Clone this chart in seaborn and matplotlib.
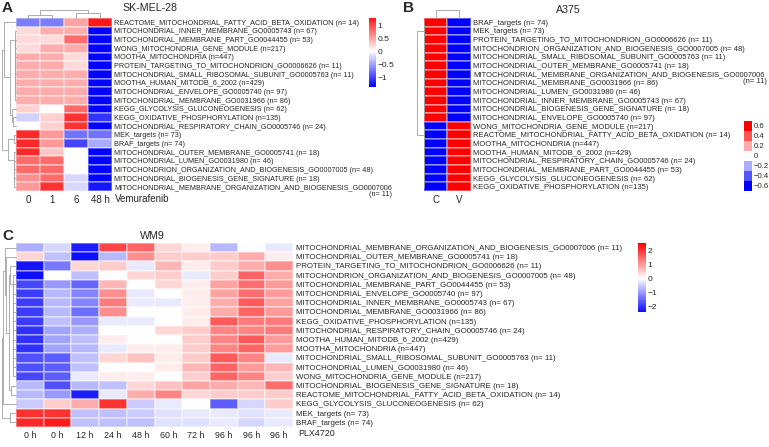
import numpy as np
import pandas as pd
import matplotlib
matplotlib.use("Agg")
import matplotlib.pyplot as plt
from matplotlib.colors import ListedColormap
from matplotlib.transforms import blended_transform_factory
import seaborn as sns

sns.set_style("white")
plt.rcParams["font.family"] = ["Liberation Sans", "DejaVu Sans"]

# ---------------- data ----------------
cols_A = ["0", "1", "6", "48 h"]
rows_A = [
    "REACTOME_MITOCHONDRIAL_FATTY_ACID_BETA_OXIDATION (n= 14)",
    "MITOCHONDRIAL_INNER_MEMBRANE_GO0005743 (n= 67)",
    "MITOCHONDRIAL_MEMBRANE_PART_GO0044455 (n= 53)",
    "WONG_MITOCHONDRIA_GENE_MODULE (n=217)",
    "MOOTHA_MITOCHONDRIA (n=447)",
    "PROTEIN_TARGETING_TO_MITOCHONDRION_GO0006626 (n= 11)",
    "MITOCHONDRIAL_SMALL_RIBOSOMAL_SUBUNIT_GO0005763 (n= 11)",
    "MOOTHA_HUMAN_MITODB_6_2002 (n=429)",
    "MITOCHONDRIAL_ENVELOPE_GO0005740 (n= 97)",
    "MITOCHONDRIAL_MEMBRANE_GO0031966 (n= 86)",
    "KEGG_GLYCOLYSIS_GLUCONEOGENESIS (n= 62)",
    "KEGG_OXIDATIVE_PHOSPHORYLATION (n=135)",
    "MITOCHONDRIAL_RESPIRATORY_CHAIN_GO0005746 (n= 24)",
    "MEK_targets (n= 73)",
    "BRAF_targets (n= 74)",
    "MITOCHONDRIAL_OUTER_MEMBRANE_GO0005741 (n= 18)",
    "MITOCHONDRIAL_LUMEN_GO0031980 (n= 46)",
    "MITOCHONDRION_ORGANIZATION_AND_BIOGENESIS_GO0007005 (n= 48)",
    "MITOCHONDRIAL_BIOGENESIS_GENE_SIGNATURE (n= 18)",
    "MITOCHONDRIAL_MEMBRANE_ORGANIZATION_AND_BIOGENESIS_GO0007006",
]
vals_A = [
    [-0.70, -0.70, 0.50, 1.25],
    [0.20, 0.45, 0.45, -1.40],
    [0.20, 0.20, 0.80, -1.35],
    [0.20, 0.45, 0.45, -1.35],
    [0.45, 0.45, 0.20, -1.35],
    [0.45, 0.45, 0.20, -1.35],
    [0.45, 0.45, 0.45, -1.35],
    [0.45, 0.45, 0.45, -1.35],
    [0.45, 0.45, 0.45, -1.35],
    [0.45, 0.45, 0.45, -1.35],
    [0.25, 0.00, 0.80, -1.35],
    [-0.25, 0.25, 1.10, -1.10],
    [0.00, 0.25, 1.10, -1.35],
    [1.15, 0.55, -0.75, -0.75],
    [1.15, 0.55, -1.00, -0.45],
    [1.15, 0.30, 0.00, -1.35],
    [0.80, 0.80, 0.00, -1.35],
    [0.80, 0.80, 0.00, -1.35],
    [0.60, 0.80, -0.20, -1.35],
    [0.55, 1.10, -0.20, -1.25],
]

cols_B = ["C", "V"]
rows_B = [
    "BRAF_targets (n= 74)",
    "MEK_targets (n= 73)",
    "PROTEIN_TARGETING_TO_MITOCHONDRION_GO0006626 (n= 11)",
    "MITOCHONDRION_ORGANIZATION_AND_BIOGENESIS_GO0007005 (n= 48)",
    "MITOCHONDRIAL_SMALL_RIBOSOMAL_SUBUNIT_GO0005763 (n= 11)",
    "MITOCHONDRIAL_OUTER_MEMBRANE_GO0005741 (n= 18)",
    "MITOCHONDRIAL_MEMBRANE_ORGANIZATION_AND_BIOGENESIS_GO0007006",
    "MITOCHONDRIAL_MEMBRANE_GO0031966 (n= 86)",
    "MITOCHONDRIAL_LUMEN_GO0031980 (n= 46)",
    "MITOCHONDRIAL_INNER_MEMBRANE_GO0005743 (n= 67)",
    "MITOCHONDRIAL_BIOGENESIS_GENE_SIGNATURE (n= 18)",
    "MITOCHONDRIAL_ENVELOPE_GO0005740 (n= 97)",
    "WONG_MITOCHONDRIA_GENE_MODULE (n=217)",
    "REACTOME_MITOCHONDRIAL_FATTY_ACID_BETA_OXIDATION (n= 14)",
    "MOOTHA_MITOCHONDRIA (n=447)",
    "MOOTHA_HUMAN_MITODB_6_2002 (n=429)",
    "MITOCHONDRIAL_RESPIRATORY_CHAIN_GO0005746 (n= 24)",
    "MITOCHONDRIAL_MEMBRANE_PART_GO0044455 (n= 53)",
    "KEGG_GLYCOLYSIS_GLUCONEOGENESIS (n= 62)",
    "KEGG_OXIDATIVE_PHOSPHORYLATION (n=135)",
]
vals_B_C = [0.707] * 12 + [-0.707] * 8
vals_B_V = [-0.707] * 12 + [0.707] * 8

cols_C = ["0 h", "0 h", "12 h", "24 h", "48 h", "60 h", "72 h", "96 h", "96 h", "96 h"]
rows_C = [
    "MITOCHONDRIAL_MEMBRANE_ORGANIZATION_AND_BIOGENESIS_GO0007006 (n= 11)",
    "MITOCHONDRIAL_OUTER_MEMBRANE_GO0005741 (n= 18)",
    "PROTEIN_TARGETING_TO_MITOCHONDRION_GO0006626 (n= 11)",
    "MITOCHONDRION_ORGANIZATION_AND_BIOGENESIS_GO0007005 (n= 48)",
    "MITOCHONDRIAL_MEMBRANE_PART_GO0044455 (n= 53)",
    "MITOCHONDRIAL_ENVELOPE_GO0005740 (n= 97)",
    "MITOCHONDRIAL_INNER_MEMBRANE_GO0005743 (n= 67)",
    "MITOCHONDRIAL_MEMBRANE_GO0031966 (n= 86)",
    "KEGG_OXIDATIVE_PHOSPHORYLATION (n=135)",
    "MITOCHONDRIAL_RESPIRATORY_CHAIN_GO0005746 (n= 24)",
    "MOOTHA_HUMAN_MITODB_6_2002 (n=429)",
    "MOOTHA_MITOCHONDRIA (n=447)",
    "MITOCHONDRIAL_SMALL_RIBOSOMAL_SUBUNIT_GO0005763 (n= 11)",
    "MITOCHONDRIAL_LUMEN_GO0031980 (n= 46)",
    "WONG_MITOCHONDRIA_GENE_MODULE (n=217)",
    "MITOCHONDRIAL_BIOGENESIS_GENE_SIGNATURE (n= 18)",
    "REACTOME_MITOCHONDRIAL_FATTY_ACID_BETA_OXIDATION (n= 14)",
    "KEGG_GLYCOLYSIS_GLUCONEOGENESIS (n= 62)",
    "MEK_targets (n= 73)",
    "BRAF_targets (n= 74)",
]
vals_C = [
    [-0.8, -0.4, -2.2, 1.8, 1.5, 0.4, 0.2, -0.7, 0.0, -0.2],
    [0.4, -0.6, -2.4, -0.7, 1.1, 0.5, 0.5, 0.5, 0.8, 0.2],
    [-2.3, -1.3, 0.4, 0.5, -0.2, 0.7, 0.2, 0.5, 0.8, 1.1],
    [-2.4, 0.0, -0.6, 0.0, 0.4, 0.5, -0.2, 0.5, 1.5, 0.8],
    [-1.8, -1.0, -1.5, 0.7, 0.0, 0.4, 0.2, 0.9, 1.4, 1.0],
    [-1.9, -0.7, -1.2, 1.1, -0.2, 0.0, 0.2, 0.9, 1.4, 1.0],
    [-1.9, -0.7, -1.2, 1.3, -0.2, -0.2, 0.2, 0.8, 1.6, 0.9],
    [-1.9, -0.7, -1.4, 1.1, 0.0, 0.0, 0.2, 0.8, 1.5, 1.0],
    [-1.9, -0.6, -1.0, -0.2, -0.2, 0.0, 0.2, 1.6, 1.3, 1.3],
    [-2.0, -0.9, -0.8, 0.0, 0.0, 0.4, 0.5, 1.2, 1.2, 1.3],
    [-2.0, -0.9, -0.6, 0.2, 0.0, 0.0, 0.5, 1.2, 1.6, 1.0],
    [-2.0, -0.9, -0.7, -0.2, 0.2, 0.2, 0.5, 1.2, 1.5, 1.0],
    [-1.7, -1.6, -0.6, 0.4, 0.6, 0.2, 0.5, 1.6, 1.2, -0.2],
    [-1.7, -1.6, -0.6, 0.0, 0.0, 0.2, 0.7, 1.5, 1.0, 0.7],
    [-1.8, -1.6, -0.2, 0.2, 0.2, 0.0, 0.5, 1.5, 1.2, 0.5],
    [-0.7, -1.7, -0.7, -0.6, 0.4, 0.6, 0.9, 0.8, 0.7, 1.4],
    [-0.7, -1.0, -2.2, -0.2, 0.8, 1.2, 0.4, 0.5, 0.5, 0.5],
    [-0.5, 0.5, 0.8, 2.0, -0.5, -0.2, 0.0, -1.6, -0.4, 0.5],
    [2.0, 2.0, -0.6, -0.6, -0.5, -0.3, -0.2, -0.2, -0.3, -0.2],
    [2.1, 2.2, -0.6, -0.6, -0.6, -0.3, -0.3, -0.2, -0.4, -0.2],
]


# ---------------- dendrogram structures ----------------
def chain(idx, h):
    idx = list(idx)
    node = idx[-1]
    for i in reversed(idx[:-1]):
        node = (i, node, h)
    return node


tree_A_cols = ((0, 1, 0.375), (2, 3, 0.625), 1.0)
tree_A_rows = (
    (0, (chain(range(1, 10), 0.08), (10, (11, 12, 0.2), 0.3), 0.45), 0.85),
    ((13, 14, 0.15), chain(range(15, 20), 0.12), 0.55),
    1.0,
)
tree_B_cols = (0, 1, 1.0)
tree_B_rows = (chain(range(0, 12), 0.02), chain(range(12, 20), 0.02), 1.0)
tree_C_rows = (
    ((0, (1, ((2, chain(range(3, 15), 0.18), 0.4), (15, 16, 0.35), 0.5), 0.7), 0.8), 17, 0.88),
    (18, 19, 0.4),
    1.0,
)

# ---------------- layout helpers ----------------
W, H = 769, 447
fig = plt.figure(figsize=(W / 100, H / 100), dpi=100)


def box(x0, y0, x1, y1):
    return [x0 / W, 1 - y1 / H, (x1 - x0) / W, (y1 - y0) / H]


def draw_dendro(ax, tree, n, orient, color="#a0a0a0", lw=0.6):
    def rec(node):
        if isinstance(node, int):
            return node + 0.5, 0.0
        l, r, h = node
        pl, hl = rec(l)
        pr, hr = rec(r)
        if orient == "left":
            ax.plot([hl, h, h, hr], [pl, pl, pr, pr], color=color, lw=lw, clip_on=False)
        else:
            ax.plot([pl, pl, pr, pr], [hl, h, h, hr], color=color, lw=lw, clip_on=False)
        return (pl + pr) / 2, h

    _, top = rec(tree)
    if orient == "left":
        ax.set_xlim(top * 1.05, 0)
        ax.set_ylim(n, 0)
    else:
        ax.set_xlim(0, n)
        ax.set_ylim(0, top * 1.05)
    ax.axis("off")


def style_heat(ax, ylab_size, ypad, xlab_size, xpad):
    ax.yaxis.tick_right()
    ax.tick_params(axis="y", length=0, pad=ypad, labelsize=ylab_size)
    ax.tick_params(axis="x", length=0, pad=xpad, labelsize=xlab_size)
    plt.setp(ax.get_yticklabels(), rotation=0, ha="left")
    plt.setp(ax.get_xticklabels(), rotation=0)


def style_cbar(ax, ticks, labels, size=6):
    cb = ax.collections[0].colorbar
    cb.set_ticks(ticks)
    cb.set_ticklabels(labels)
    cb.ax.tick_params(length=0, labelsize=size, pad=1)
    cb.outline.set_visible(False)


grid = dict(linewidths=0.3, linecolor=(1, 1, 1, 0.35))

# ---------------- Panel A ----------------
axA = fig.add_axes(box(16, 18, 112, 191))
caxA = fig.add_axes(box(369, 18, 376, 87))
dfA = pd.DataFrame(vals_A, index=rows_A, columns=cols_A)
sns.heatmap(dfA, ax=axA, cbar_ax=caxA, cmap="bwr", vmin=-1.38, vmax=1.27, center=0,
            xticklabels=cols_A, yticklabels=rows_A, **grid)
style_heat(axA, 5.25, 1.5, 7, 3)
style_cbar(axA, [-1, -0.5, 0, 0.5, 1], ["\u22121", "\u22120.5", "0", "0.5", "1"])
trA = blended_transform_factory(fig.transFigure, axA.transData)
axA.text(392 / W, 20.45, "(n= 11)", transform=trA, ha="right", va="center", fontsize=5.25)
fig.text(115 / W, 1 - 199 / H, "Vemurafenib", fontsize=7, va="center", ha="left")

draw_dendro(fig.add_axes(box(16, 9.5, 112, 18)), tree_A_cols, 4, "top")
draw_dendro(fig.add_axes(box(1, 18, 16, 191)), tree_A_rows, 20, "left")

fig.text(2 / W, 1 - 8 / H, "A", fontsize=11, fontweight="bold", va="center")
fig.text(122 / W, 1 - 8 / H, "SK-MEL-28", fontsize=7.7, va="center")

# ---------------- Panel B ----------------
axB = fig.add_axes(box(424, 18, 471, 191))
caxB = fig.add_axes(box(744, 121, 752, 191))
dfB = pd.DataFrame({"C": vals_B_C, "V": vals_B_V}, index=rows_B)
cmapB = ListedColormap(plt.cm.bwr(np.linspace(0, 1, 7)))
sns.heatmap(dfB, ax=axB, cbar_ax=caxB, cmap=cmapB, vmin=-0.7, vmax=0.7,
            xticklabels=cols_B, yticklabels=rows_B, **grid)
style_heat(axB, 5.5, 1.5, 7, 3)
style_cbar(axB, [-0.6, -0.4, -0.2, 0, 0.2, 0.4, 0.6],
           ["\u22120.6", "\u22120.4", "\u22120.2", "0", "0.2", "0.4", "0.6"], size=5.6)
trB = blended_transform_factory(fig.transFigure, axB.transData)
axB.text(767 / W, 7.35, "(n= 11)", transform=trB, ha="right", va="center", fontsize=5.5)

draw_dendro(fig.add_axes(box(424, 10, 471, 18)), tree_B_cols, 2, "top")
draw_dendro(fig.add_axes(box(416.5, 18, 424, 191)), tree_B_rows, 20, "left")

fig.text(403 / W, 1 - 8 / H, "B", fontsize=11, fontweight="bold", va="center")
fig.text(556 / W, 1 - 10 / H, "A375", fontsize=7.7, va="center")

# ---------------- Panel C ----------------
axC = fig.add_axes(box(16, 243, 293, 427))
caxC = fig.add_axes(box(638, 243, 646, 312))
dfC = pd.DataFrame(vals_C, index=rows_C, columns=list(range(len(cols_C))))
sns.heatmap(dfC, ax=axC, cbar_ax=caxC, cmap="bwr", vmin=-2.36, vmax=2.5, center=0,
            xticklabels=cols_C, yticklabels=rows_C, **grid)
style_heat(axC, 5.65, 2.5, 6.4, 3)
style_cbar(axC, [-2, -1, 0, 1, 2], ["\u22122", "\u22121", "0", "1", "2"])
fig.text(298 / W, 1 - 434 / H, "PLX4720", fontsize=6.4, va="center", ha="left")

draw_dendro(fig.add_axes(box(1, 243, 16, 427)), tree_C_rows, 20, "left")

fig.text(2 / W, 1 - 236 / H, "C", fontsize=11, fontweight="bold", va="center")
fig.text(140 / W, 1 - 236 / H, "WM9", fontsize=7.7, va="center")

fig.savefig("out.png", dpi=100)
